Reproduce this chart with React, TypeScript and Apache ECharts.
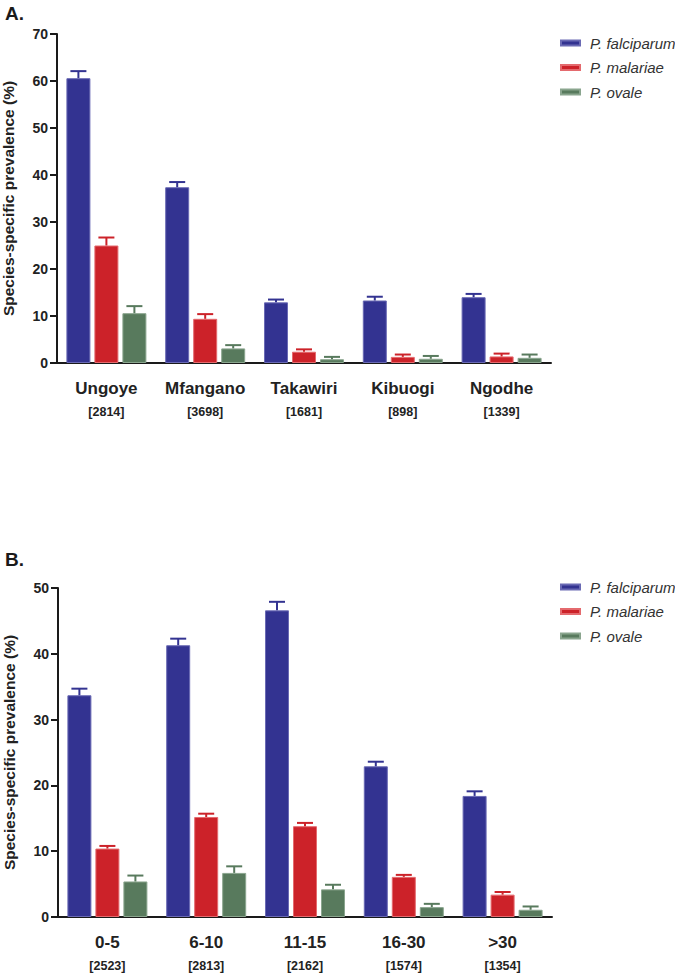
import React, { useEffect, useRef } from "react";
import * as echarts from "echarts";

const speciesNames = ["P. falciparum", "P. malariae", "P. ovale"];
const speciesColors = ["#333391", "#cc2229", "#587a5d"];
const speciesBorders = ["#6a6ab4", "#e46a6e", "#8aa58e"];

const categoriesA = ["Ungoye", "Mfangano", "Takawiri", "Kibuogi", "Ngodhe"];
const samplesA = ["2814", "3698", "1681", "898", "1339"];
const falciparumA = [60.6, 37.4, 12.9, 13.3, 14.0];
const falciparumErrA = [62.1, 38.5, 13.5, 14.1, 14.7];
const malariaeA = [25.0, 9.4, 2.4, 1.3, 1.4];
const malariaeErrA = [26.7, 10.4, 2.9, 1.8, 2.0];
const ovaleA = [10.6, 3.1, 0.8, 0.9, 1.1];
const ovaleErrA = [12.1, 3.8, 1.3, 1.5, 1.8];

const categoriesB = ["0-5", "6-10", "11-15", "16-30", ">30"];
const samplesB = ["2523", "2813", "2162", "1574", "1354"];
const falciparumB = [33.7, 41.3, 46.6, 22.9, 18.4];
const falciparumErrB = [34.7, 42.3, 47.9, 23.6, 19.1];
const malariaeB = [10.4, 15.2, 13.8, 6.1, 3.4];
const malariaeErrB = [10.8, 15.7, 14.3, 6.4, 3.8];
const ovaleB = [5.4, 6.7, 4.2, 1.5, 1.1];
const ovaleErrB = [6.3, 7.7, 4.9, 2.0, 1.6];

const yMaxA = 70;
const yMaxB = 50;
const yInterval = 10;

const FONT = "Liberation Sans, Arial, Helvetica, sans-serif";
const BAR_W = 24;
const BAR_GAP = 4;
const CAP_W = 16;

function buildPanel(
  gridIndex: number,
  values: number[][],
  errs: number[][]
) {
  const series: any[] = [];
  values.forEach((vals, k) => {
    series.push({
      type: "bar",
      name: speciesNames[k],
      xAxisIndex: gridIndex,
      yAxisIndex: gridIndex,
      data: vals,
      barWidth: BAR_W,
      barGap: (BAR_GAP / BAR_W) * 100 + "%",
      itemStyle: {
        color: speciesColors[k],
        borderColor: speciesBorders[k],
        borderWidth: 1,
      },
      z: 2,
    });
  });
  errs.forEach((errVals, k) => {
    const data = errVals.map((e, i) => [i, values[k][i], e]);
    series.push({
      type: "custom",
      name: "err" + gridIndex + "_" + k,
      xAxisIndex: gridIndex,
      yAxisIndex: gridIndex,
      data,
      z: 3,
      renderItem: (params: any, api: any) => {
        const offset = (k - 1) * (BAR_W + BAR_GAP);
        const base = api.coord([api.value(0), api.value(1)]);
        const top = api.coord([api.value(0), api.value(2)]);
        const cx = base[0] + offset;
        const style = { stroke: speciesColors[k], lineWidth: 2 };
        return {
          type: "group",
          children: [
            {
              type: "line",
              shape: { x1: cx, y1: base[1], x2: cx, y2: top[1] },
              style,
            },
            {
              type: "line",
              shape: {
                x1: cx - CAP_W / 2,
                y1: top[1],
                x2: cx + CAP_W / 2,
                y2: top[1],
              },
              style,
            },
          ],
        };
      },
    });
  });
  return series;
}

function xAxisFor(gridIndex: number, cats: string[], samples: string[]) {
  return {
    type: "category",
    gridIndex,
    data: cats,
    axisLine: { lineStyle: { color: "#1a1a1a", width: 2 } },
    axisTick: {
      alignWithLabel: true,
      length: 12,
      lineStyle: { color: "#1a1a1a", width: 2 },
    },
    axisLabel: {
      margin: 14,
      interval: 0,
      formatter: (v: string, i: number) => `{a|${v}}\n{b|[${samples[i]}]}`,
      rich: {
        a: {
          fontFamily: FONT,
          fontSize: 17,
          fontWeight: "bold",
          color: "#222",
          lineHeight: 22,
        },
        b: {
          fontFamily: FONT,
          fontSize: 12.5,
          fontWeight: "bold",
          color: "#222",
          lineHeight: 26,
        },
      },
    },
  };
}

function yAxisFor(gridIndex: number, max: number) {
  return {
    type: "value",
    gridIndex,
    min: 0,
    max,
    interval: yInterval,
    name: "Species-specific prevalence (%)",
    nameLocation: "middle",
    nameGap: 41,
    nameTextStyle: {
      fontFamily: FONT,
      fontSize: 15.5,
      fontWeight: "bold",
      color: "#222",
    },
    splitLine: { show: false },
    axisLine: { show: true, lineStyle: { color: "#1a1a1a", width: 2 } },
    axisTick: { show: true, length: 7, lineStyle: { color: "#1a1a1a", width: 2 } },
    axisLabel: {
      margin: 9,
      fontFamily: FONT,
      fontSize: 14,
      fontWeight: "bold",
      color: "#222",
    },
  };
}

function legendFor(top: number) {
  return {
    show: true,
    orient: "vertical",
    left: 555,
    top,
    data: speciesNames,
    icon: "rect",
    itemWidth: 19,
    itemHeight: 5,
    itemGap: 8.5,
    selectedMode: false,
    textStyle: {
      fontFamily: FONT,
      fontSize: 15,
      fontStyle: "italic",
      color: "#333",
      lineHeight: 16,
      padding: [0, 0, 0, 5],
    },
  };
}

export default function App() {
  const ref = useRef<HTMLDivElement>(null);

  useEffect(() => {
    if (!ref.current) return;
    const chart = echarts.init(ref.current, undefined, { renderer: "svg" });
    const seriesA = buildPanel(
      0,
      [falciparumA, malariaeA, ovaleA],
      [falciparumErrA, malariaeErrA, ovaleErrA]
    );
    const seriesB = buildPanel(
      1,
      [falciparumB, malariaeB, ovaleB],
      [falciparumErrB, malariaeErrB, ovaleErrB]
    );
    chart.setOption({
      animation: false,
      backgroundColor: "#ffffff",
      textStyle: { fontFamily: FONT },
      title: [
        {
          text: "A.",
          left: 0,
          top: -1,
          textStyle: { fontFamily: FONT, fontSize: 19, fontWeight: "bold", color: "#1a1a1a" },
        },
        {
          text: "B.",
          left: 0,
          top: 545,
          textStyle: { fontFamily: FONT, fontSize: 19, fontWeight: "bold", color: "#1a1a1a" },
        },
      ],
      legend: [legendFor(30), legendFor(574)],
      grid: [
        { left: 57, top: 34, width: 494, height: 329, containLabel: false, outerBoundsMode: "none" },
        { left: 58, top: 588, width: 494, height: 329, containLabel: false, outerBoundsMode: "none" },
      ],
      xAxis: [xAxisFor(0, categoriesA, samplesA), xAxisFor(1, categoriesB, samplesB)],
      yAxis: [yAxisFor(0, yMaxA), yAxisFor(1, yMaxB)],
      series: [...seriesA, ...seriesB],
    });
    return () => chart.dispose();
  }, []);

  return (
    <div
      ref={ref}
      style={{ position: "absolute", left: 0, top: 0, width: 675, height: 974 }}
    />
  );
}
